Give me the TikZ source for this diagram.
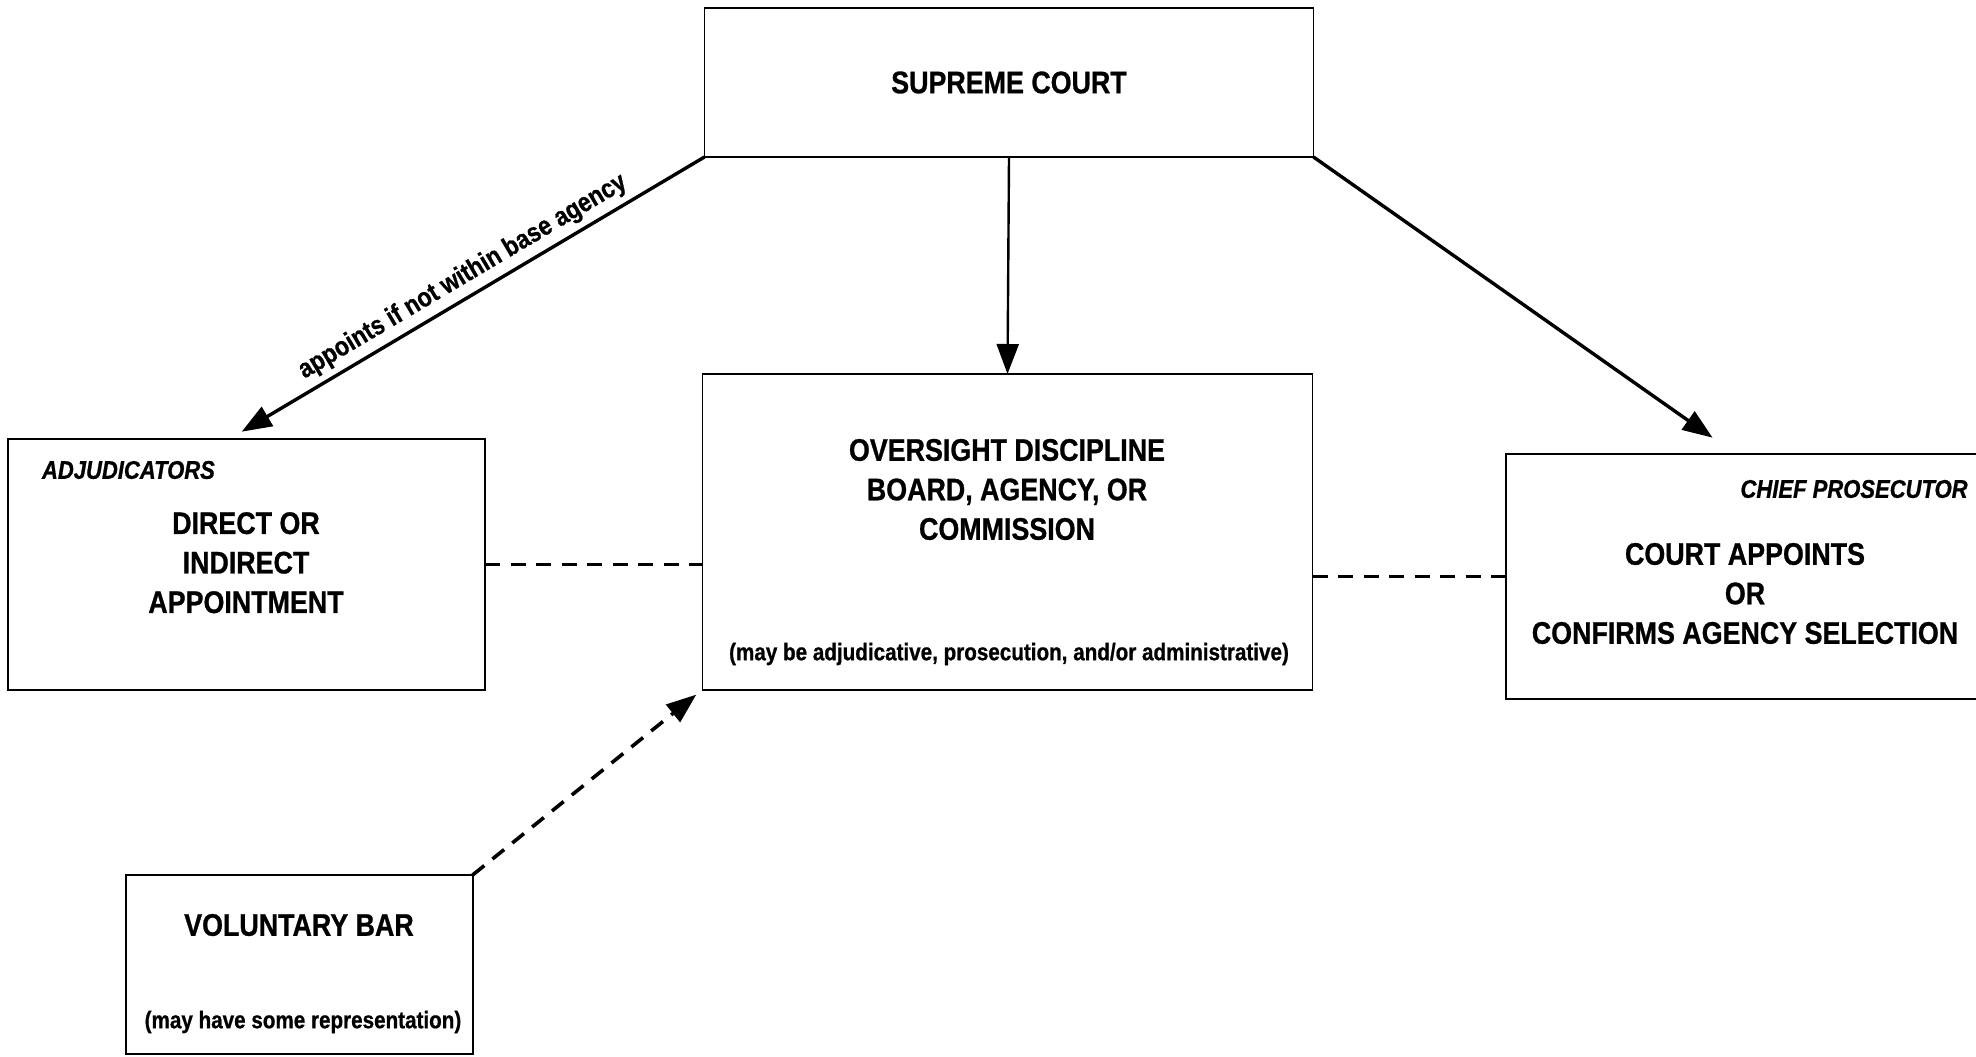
\documentclass[tikz,border=0pt]{standalone}
\usepackage{fontspec}
\setmainfont{Liberation Sans}[FakeStretch=0.86, BoldFeatures={FakeBold=0.8}, BoldItalicFeatures={FakeBold=0.8}]
\usetikzlibrary{arrows.meta}
\begin{document}
\begin{tikzpicture}[x=0.5pt,y=-0.5pt,
  box/.style={draw, line width=0.9pt, inner sep=0pt, outer sep=0pt},
  big/.style={font=\bfseries\fontsize{15.6}{19.75}\selectfont, align=center, inner sep=0pt},
  sub/.style={font=\bfseries\fontsize{12}{14}\selectfont, inner sep=0pt},
  tag/.style={font=\bfseries\itshape\fontsize{12.8}{15}\selectfont, inner sep=0pt},
  lbl/.style={font=\bfseries\fontsize{13.4}{15}\selectfont, inner sep=0pt},
  solidarrow/.style={line width=1.7pt, -{Triangle[length=15pt,width=11pt]}},
  vertarrow/.style={line width=1.2pt, -{Triangle[length=15pt,width=11pt]}},
  dashline/.style={line width=1.8pt, dash pattern=on 7.5pt off 5.25pt}]
\useasboundingbox (0,0) rectangle (1976,1056);
\fill[white] (0,0) rectangle (1976,1056);
\clip (0,0) rectangle (1976,1056);

% boxes
\node[box, minimum width=304.5pt, minimum height=74.5pt] (sc) at (1009,82.5) {};
\node[box, minimum width=305pt, minimum height=157.8pt] (ov) at (1007.5,531.8) {};
\node[box, minimum width=238.7pt, minimum height=125.3pt] (adj) at (246.3,564.3) {};
\node[box, minimum width=239pt, minimum height=122.5pt] (cp) at (1745,576.5) {};
\node[box, minimum width=173.3pt, minimum height=89.5pt] (vb) at (299.3,964.5) {};

% texts
\node[big] (sctext) at (1009,82.5) {SUPREME COURT};
\node[big] (ovtext) at (1007,489.5) {OVERSIGHT DISCIPLINE\\BOARD, AGENCY, OR\\COMMISSION};
\node[sub] (ovsub) at (1009,654) {(may be adjudicative, prosecution, and/or administrative)};
\node[tag, anchor=west] (adjtag) at (41.6,470) {ADJUDICATORS};
\node[big] (adjtext) at (246,562.7) {DIRECT OR\\INDIRECT\\APPOINTMENT};
\node[tag, anchor=east] (cptag) at (1968,489) {CHIEF PROSECUTOR};
\node[big] (cptext) at (1745,593.5) {COURT APPOINTS\\OR\\CONFIRMS AGENCY SELECTION};
\node[big] (vbtext) at (299,925) {VOLUNTARY BAR};
\node[sub] (vbsub) at (303,1022) {(may have some representation)};

% arrow end points
\coordinate (adjtip) at (241.7,431.7);
\coordinate (cptip) at (1712.6,437.7);

% connectors
\draw[solidarrow] (sc.south west) -- node[lbl, sloped, above=3pt, midway] (lbltext) {appoints if not within base agency} (adjtip);
\draw[vertarrow] (sc.south) -- (ov.north);
\draw[solidarrow] (sc.south east) -- (cptip);
\draw[dashline] (adj.east) -- (adj.east -| ov.west);
\draw[dashline] (cp.west -| ov.east) -- (cp.west);
\draw[dashline, -{Triangle[length=15pt,width=11pt]}, shorten >=4pt] (vb.north east) -- (ov.south west);
\end{tikzpicture}
\end{document}
